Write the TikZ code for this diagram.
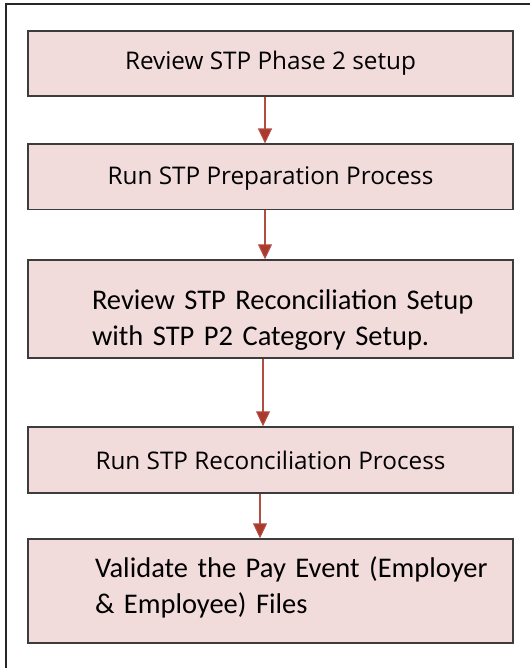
\documentclass[tikz,border=0pt]{standalone}
\usepackage{fontspec}
\setmainfont{Open Sans}
\newfontfamily\calfont{Carlito}
\usetikzlibrary{arrows.meta}
\definecolor{boxpink}{RGB}{242,219,219}
\definecolor{boxline}{RGB}{60,60,60}
\definecolor{flowred}{RGB}{170,58,44}
\tikzset{
  stepbox/.style={draw=boxline,line width=1.4pt,fill=boxpink,minimum width=485pt,inner sep=0pt},
  onetext/.style={font=\fontsize{24.3}{29}\selectfont},
  twotext/.style={font=\calfont\fontsize{28.5}{36}\selectfont,align=left,text width=485pt},
  flow/.style={draw=flowred!90,line width=1.1pt,-{Triangle[length=15pt,width=14pt,fill=flowred]}}
}
\begin{document}
\begin{tikzpicture}[x=1pt,y=-1pt]
\useasboundingbox (0,0) rectangle (530,668);
\draw[line width=1.3pt,black!85] (530,4)--(6,4)--(6,668);
    \node[stepbox,onetext,minimum height=65pt,text height=19pt,text depth=6pt] (p2) at (270.5,63.5) {Review STP Phase 2 setup};
    \node[stepbox,onetext,minimum height=65pt,text height=22.6pt,text depth=6pt] (prep) at (270.5,176.7) {Run STP Preparation Process};
    \node[stepbox,twotext,minimum height=98pt,text height=20pt,text depth=20pt] (recset) at (270.5,309)
        {\hspace*{64pt}Review STP Reconciliation Setup\\\hspace*{64pt}with STP P2 Category Setup.};
    \node[stepbox,onetext,minimum height=66pt,text height=24pt,text depth=6pt] (recrun) at (270.5,460) {Run STP Reconciliation Process};
    \node[stepbox,twotext,minimum height=104pt,text height=10pt,text depth=38pt] (payev) at (270.5,591)
        {\hspace*{67pt}Validate the Pay Event (Employer\\\hspace*{67pt}\& Employee) Files};
    \draw[flow] ([xshift=-5.5pt]p2.south) -- ([xshift=-5.5pt]prep.north);
    \draw[flow] ([xshift=-5.5pt]prep.south) -- ([xshift=-5.5pt]recset.north);
    \draw[flow] ([xshift=-7.5pt]recset.south) -- ([xshift=-7.5pt]recrun.north);
    \draw[flow] ([xshift=-10.5pt]recrun.south) -- ([xshift=-10.5pt]payev.north);
\end{tikzpicture}
\end{document}
